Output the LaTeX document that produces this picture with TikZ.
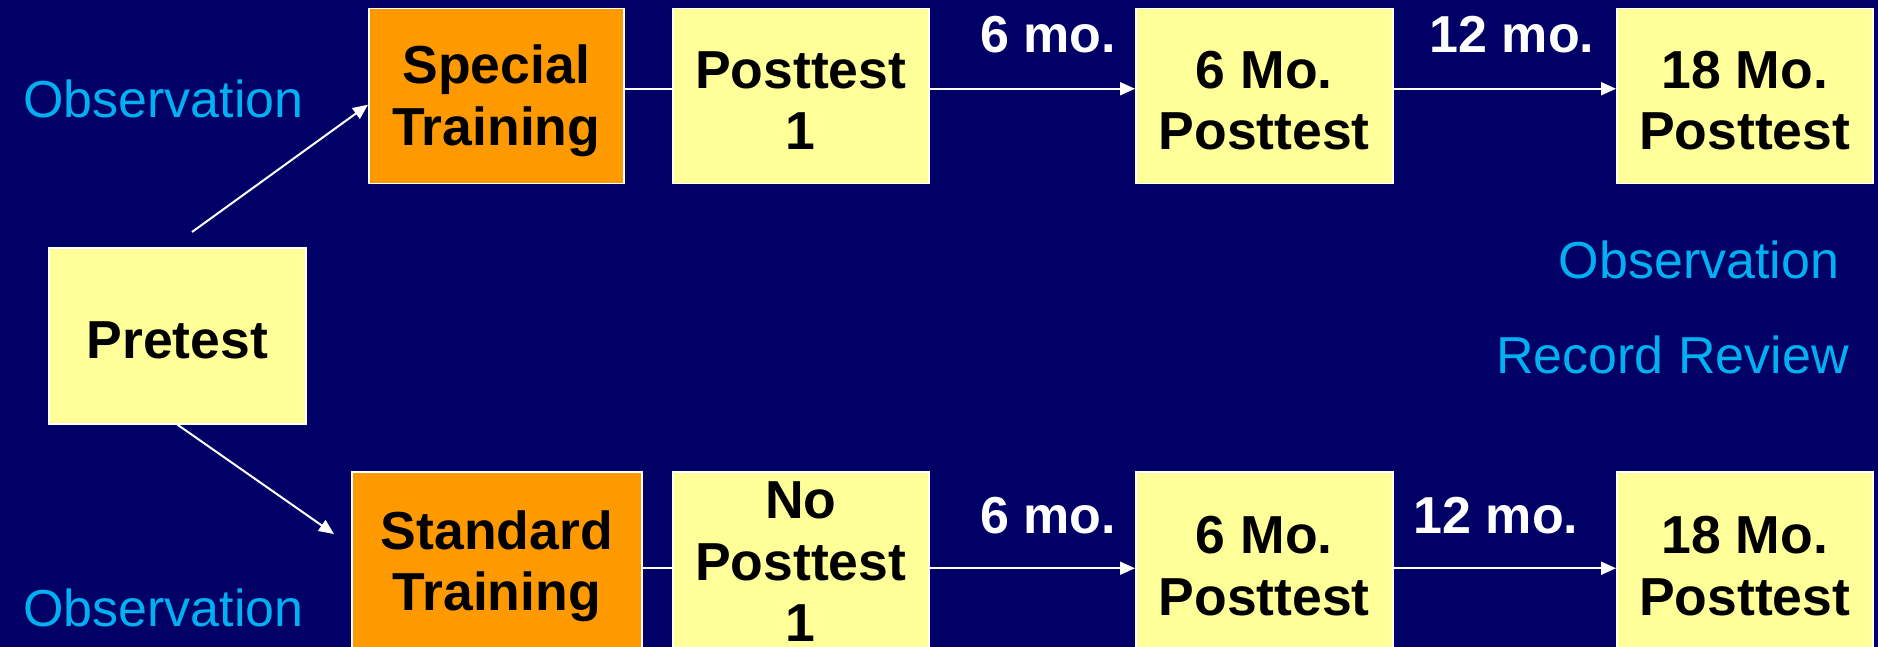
\documentclass[tikz,border=0pt]{standalone}
\usepackage{fontspec}
\setmainfont{Liberation Sans}
\usetikzlibrary{arrows.meta}
\definecolor{bg}{RGB}{0,0,102}
\definecolor{boxyellow}{RGB}{255,255,153}
\definecolor{boxorange}{RGB}{255,153,0}
\definecolor{lblcyan}{RGB}{0,176,240}
\tikzset{
  boxtext/.style={align=center, text=black, inner sep=0pt, yshift=-4.5pt,
    font=\fontsize{53.5}{61.5}\selectfont\bfseries},
  stagebox/.style={draw=white, line width=1.5pt, fill=boxyellow, inner sep=0pt,
    anchor=north west, label={[boxtext]center:{#1}}},
  highbox/.style={draw=white, line width=1.5pt, fill=boxyellow, inner sep=0pt,
    anchor=north west, label={[boxtext, yshift=4.5pt]center:{#1}}},
  trainbox/.style={stagebox={#1}, fill=boxorange},
  obslabel/.style={text=lblcyan, anchor=base, inner sep=0pt, font=\fontsize{52}{61}\selectfont},
  molabel/.style={text=white, anchor=base, inner sep=0pt, font=\fontsize{52}{61}\selectfont\bfseries},
  link/.style={draw=white, line width=2pt},
  arrowlink/.style={link, -{Triangle[length=15pt,width=13pt]}}
}
\begin{document}
\begin{tikzpicture}[x=1pt,y=-1pt]
\useasboundingbox (0,0) rectangle (1878,647);
\fill[bg] (0,0) rectangle (1878,647);
\begin{scope}
\clip (0,0) rectangle (1878,647);
% top row
\node[trainbox={Special\\Training}, minimum width=255pt, minimum height=175pt] (st) at (368,8) {};
\node[stagebox={Posttest\\1}, minimum width=256pt, minimum height=175pt] (p1) at (672,8) {};
\node[stagebox={6 Mo.\\Posttest}, minimum width=257pt, minimum height=175pt] (m6a) at (1135,8) {};
\node[stagebox={18 Mo.\\Posttest}, minimum width=256pt, minimum height=175pt] (m18a) at (1616,8) {};
% pretest
\node[stagebox={Pretest}, minimum width=257pt, minimum height=176pt] (pre) at (48,247) {};
% bottom row
\node[trainbox={Standard\\Training}, minimum width=290pt, minimum height=180pt] (std) at (351,471) {};
\node[highbox={No\\Posttest\\1}, minimum width=256pt, minimum height=180pt] (np1) at (672,471) {};
\node[stagebox={6 Mo.\\Posttest}, minimum width=257pt, minimum height=180pt] (m6b) at (1135,471) {};
\node[stagebox={18 Mo.\\Posttest}, minimum width=256pt, minimum height=180pt] (m18b) at (1616,471) {};
\end{scope}
% labels
\node[obslabel] (obs1) at (163.5,118) {Observation};
\node[obslabel] (obs2) at (1699,278) {Observation};
\node[obslabel] (rr) at (1672.5,373) {Record Review};
\node[obslabel] (obs3) at (163.5,626) {Observation};
\node[molabel] (mo6a) at (1048,53) {6 mo.};
\node[molabel] (mo12a) at (1512,53) {12 mo.};
\node[molabel] (mo6b) at (1048,533) {6 mo.};
\node[molabel] (mo12b) at (1496,533) {12 mo.};
% connectors top
\draw[link] ([yshift=7.5pt]st.east) -- ([yshift=7.5pt]p1.west);
\draw[arrowlink] ([yshift=7.5pt]p1.east) -- ([yshift=7.5pt]m6a.west);
\draw[arrowlink] ([yshift=7.5pt]m6a.east) -- ([yshift=7.5pt]m18a.west);
% connectors bottom
\draw[link] ([yshift=-6.5pt]std.east) -- ([yshift=-6.5pt]np1.west);
\draw[arrowlink] ([yshift=-6.5pt]np1.east) -- ([yshift=-6.5pt]m6b.west);
\draw[arrowlink] ([yshift=-6.5pt]m6b.east) -- ([yshift=-6.5pt]m18b.west);
% diagonals
\coordinate (d1) at (192,232);
\coordinate (d2) at (334,534);
\draw[arrowlink] (d1) -- ([yshift=-8.5pt]st.west);
\draw[arrowlink] (pre.south) -- (d2);
\end{tikzpicture}
\end{document}
